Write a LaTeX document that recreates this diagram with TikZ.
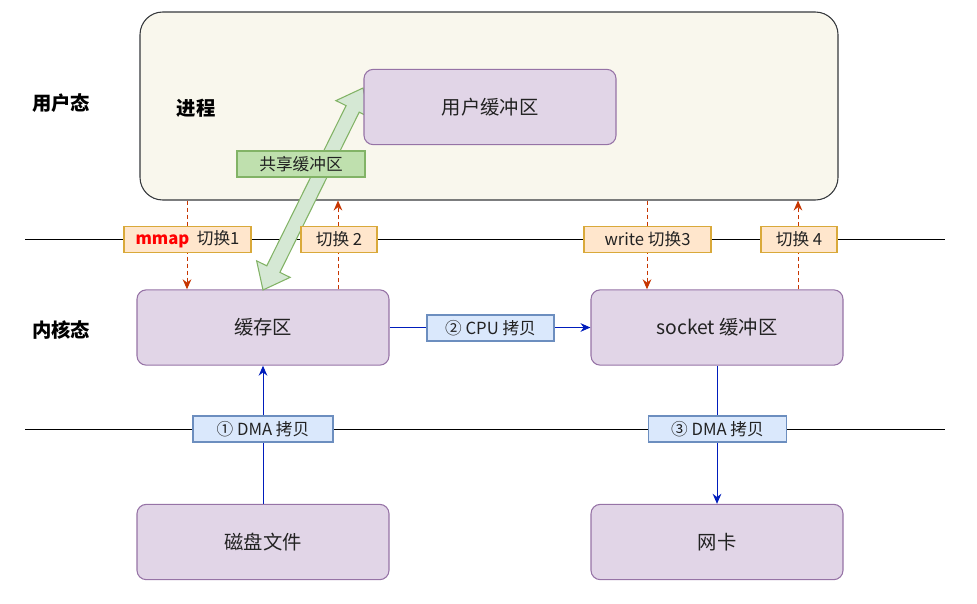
\documentclass[tikz,border=0pt]{standalone}
\usepackage{fontspec}
\setmainfont{Noto Sans CJK SC}
\usetikzlibrary{arrows.meta,calc}
\definecolor{procfill}{HTML}{F9F7ED}
\definecolor{procdraw}{HTML}{36393D}
\definecolor{purfill}{HTML}{E1D5E7}
\definecolor{purdraw}{HTML}{9673A6}
\definecolor{orfill}{HTML}{FFE6CC}
\definecolor{ordraw}{HTML}{D9A93A}
\definecolor{blfill}{HTML}{DAE8FC}
\definecolor{bldraw}{HTML}{6C8EBF}
\definecolor{grfill}{HTML}{D5E8D4}
\definecolor{grlabel}{HTML}{BFE0AE}
\definecolor{grdraw}{HTML}{82B366}
\definecolor{dashc}{HTML}{C73500}
\definecolor{bluec}{HTML}{001DBC}
\definecolor{txt}{HTML}{222222}
\tikzset{
  procbox/.style={draw=procdraw, fill=procfill, line width=0.8pt, rounded corners=17pt,
    minimum width=523.5pt, minimum height=141pt, inner sep=0pt},
  purbox/.style={draw=purdraw, fill=purfill, line width=0.8pt, rounded corners=7pt,
    minimum width=189pt, minimum height=56.5pt, inner sep=0pt, text=txt,
    font=\fontsize{14.5}{16}\selectfont},
  lbl/.style={line width=0.8pt, inner sep=0pt, minimum height=19.5pt, text=txt,
    font=\fontsize{12.5}{14}\selectfont},
  orlbl/.style={lbl, draw=ordraw, fill=orfill},
  bllbl/.style={lbl, draw=bldraw, fill=blfill},
  grlbl/.style={lbl, draw=grdraw, fill=grlabel},
  side/.style={font=\bfseries\fontsize{14.5}{16}\selectfont, text=black},
  dasharrow/.style={draw=dashc, line width=0.75pt, dash pattern=on 3pt off 2.25pt,
    -{Stealth[length=7.5pt,width=6.5pt]}},
  bluearrow/.style={draw=bluec, line width=0.75pt, -{Stealth[length=7.5pt,width=6.5pt]}},
  divline/.style={draw=black, line width=0.75pt},
  garrow/.style={draw=grdraw, fill=grfill, line width=0.8pt, line join=miter},
}
\begin{document}
\begin{tikzpicture}[x=0.75pt, y=-0.75pt]
\useasboundingbox (0,0) rectangle (977,603);

% process box
\node[procbox] (proc) at (489,106) {};
\node[side] (ptxt) at (196,108) {进程};

% side labels
\node[side] (ut) at (61,103) {用户态};
\node[side] (kt) at (61,330) {内核态};

% kernel boxes
\node[purbox] (cache) at (263,327.5) {缓存区};
\node[purbox] (sock) at (717,327.5) {socket 缓冲区};
\node[purbox] (disk) at (263,542) {磁盘文件};
\node[purbox] (nic) at (717,542) {网卡};

% dividing lines
\coordinate (l1a) at (25,239);
\coordinate (l1b) at (945,239);
\coordinate (l2a) at (25,429);
\coordinate (l2b) at (945,429);
\draw[divline] (l1a) -- (l1b);
\draw[divline] (l2a) -- (l2b);

% green shared-buffer arrow
\coordinate (ga) at (263,290);
\coordinate (gb) at (363,88);
\coordinate (ga1) at ($(ga)!17.5pt!(gb)$);
\coordinate (gb1) at ($(gb)!17.5pt!(ga)$);
\filldraw[garrow] (ga) -- ($(ga1)!14pt!90:(gb)$) -- ($(ga1)!5.5pt!90:(gb)$)
  -- ($(gb1)!5.5pt!-90:(ga)$) -- ($(gb1)!14pt!-90:(ga)$) -- (gb)
  -- ($(gb1)!14pt!90:(ga)$) -- ($(gb1)!5.5pt!90:(ga)$)
  -- ($(ga1)!5.5pt!-90:(gb)$) -- ($(ga1)!14pt!-90:(gb)$) -- cycle;

% user buffer
\node[purbox] (user) at (490,107) {用户缓冲区};
\node[grlbl, minimum width=96pt] (shared) at (301,164) {共享缓冲区};

% dashed switch arrows
\coordinate (s1) at (187,0);
\coordinate (s2) at (338,0);
\coordinate (s3) at (647,0);
\coordinate (s4) at (798,0);
\draw[dasharrow] (s1 |- proc.south) -- (s1 |- cache.north);
\draw[dasharrow] (s2 |- cache.north) -- (s2 |- proc.south);
\draw[dasharrow] (s3 |- proc.south) -- (s3 |- sock.north);
\draw[dasharrow] (s4 |- sock.north) -- (s4 |- proc.south);

% blue copy arrows
\draw[bluearrow] (cache.east) -- (sock.west);
\draw[bluearrow] (disk.north) -- (cache.south);
\draw[bluearrow] (sock.south) -- (nic.north);

% labels
\node[orlbl, minimum width=95.25pt] (sw1) at (187.5,239.5) {{\color{red}\bfseries mmap}\ \ 切换1};
\node[orlbl, minimum width=57pt] (sw2) at (339,239.5) {切换 2};
\node[orlbl, minimum width=95.25pt] (sw3) at (647.5,239.5) {write 切换3};
\node[orlbl, minimum width=57pt] (sw4) at (799,239.5) {切换 4};
\node[bllbl, minimum width=95.25pt] (cpu) at (490.5,328) {② CPU 拷贝};
\node[bllbl, minimum width=105pt] (dma1) at (263,429) {① DMA 拷贝};
\node[bllbl, minimum width=104pt] (dma3) at (717.5,429) {③ DMA 拷贝};
\end{tikzpicture}
\end{document}
